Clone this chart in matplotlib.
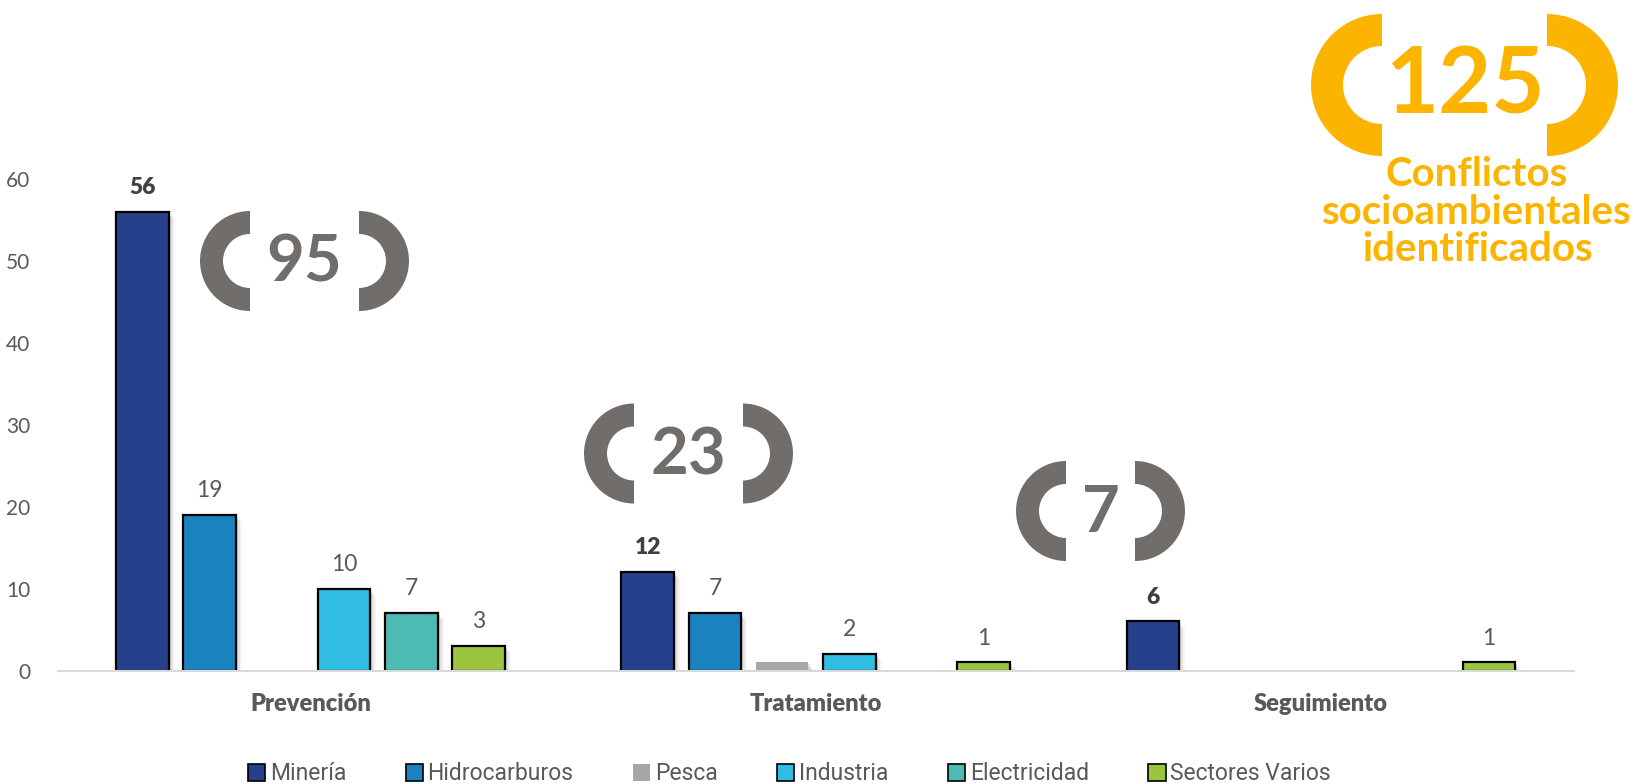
import numpy as np
import matplotlib
matplotlib.use('Agg')
import matplotlib.pyplot as plt
from matplotlib.patches import Wedge, Patch

plt.rcParams['font.family'] = ['Lato', 'DejaVu Sans']

categories = ['Prevención', 'Tratamiento', 'Seguimiento']
series_names = ['Minería', 'Hidrocarburos', 'Pesca', 'Industria', 'Electricidad', 'Sectores Varios']
mineria = [56, 12, 6]
hidrocarburos = [19, 7, 0]
pesca = [0, 1, 0]
industria = [10, 2, 0]
electricidad = [7, 0, 0]
sectores_varios = [3, 1, 1]
group_totals = [95, 23, 7]
total_conflicts = 125
yticks = [0, 10, 20, 30, 40, 50, 60]

series = [mineria, hidrocarburos, pesca, industria, electricidad, sectores_varios]
colors = ['#27408B', '#1B82C0', '#A6A6A6', '#31BDE1', '#4DBBB3', '#9BC53F']
edges = ['black', 'black', 'none', 'black', 'black', 'black']
show_label = [True, True, False, True, True, True]

fig = plt.figure(figsize=(16.48, 7.84), dpi=100)
ax = fig.add_axes([0.0351, 0.1446, 0.9197, 0.6274])

x = np.arange(len(categories))
pitch = 0.133
width = 0.104

for i, vals in enumerate(series):
    xs = x + (i - 2.5) * pitch
    vals = np.array(vals)
    mask = vals > 0
    # soft shadow to the right
    for k, a in enumerate([0.10, 0.07, 0.04]):
        off = 0.004 + k * 0.004
        ax.bar(xs[mask] + off, vals[mask] - 0.25 * (k + 1), width, bottom=0.0,
               color='black', alpha=a, linewidth=0, zorder=1)
    ax.bar(xs[mask], vals[mask], width, color=colors[i], edgecolor=edges[i],
           linewidth=1.6, zorder=3)
    if show_label[i]:
        for xv, v in zip(xs[mask], vals[mask]):
            ax.annotate(str(v), (xv, v), xytext=(0, 10), textcoords='offset points',
                        ha='center', va='bottom', fontsize=16.5,
                        color='#404040' if i == 0 else '#595959',
                        fontweight='heavy' if i == 0 else 'normal')

ax.set_xlim(-0.5, 2.5)
ax.set_ylim(0, 60)
ax.set_yticks(yticks)
ax.set_xticks(x)
ax.set_xticklabels(categories, fontsize=17, fontweight='heavy', color='#595959')
ax.tick_params(axis='both', length=0, labelcolor='#595959')
ax.tick_params(axis='x', pad=16)
ax.tick_params(axis='y', pad=20, labelsize=15)
for s in ['top', 'right', 'left']:
    ax.spines[s].set_visible(False)
ax.spines['bottom'].set_color('#D9D9D9')
ax.spines['bottom'].set_linewidth(1.5)
ax.spines['bottom'].set_zorder(4)

handles = [Patch(facecolor=c, edgecolor=e, linewidth=1.2) for c, e in zip(colors, edges)]
fig.legend(handles, series_names, loc='center', bbox_to_anchor=(0.479, 0.013), ncol=6,
           frameon=False, handlelength=0.75, handleheight=0.75, handletextpad=0.2,
           columnspacing=2.6, prop={'family': 'Roboto', 'size': 16.5},
           labelcolor='#595959')

# overlay in pixel coordinates for the bracket badges
ov = fig.add_axes([0, 0, 1, 1], zorder=5)
ov.set_xlim(0, 1648)
ov.set_ylim(784, 0)
ov.axis('off')
ov.patch.set_alpha(0)


def badge(text, cx, cy, gap, r, w, color, size):
    ov.add_patch(Wedge((cx - gap / 2, cy), r, 90, 270, width=w, color=color, linewidth=0))
    ov.add_patch(Wedge((cx + gap / 2, cy), r, -90, 90, width=w, color=color, linewidth=0))
    ov.text(cx, cy + 2, text, ha='center', va='center', fontsize=size,
            fontweight='bold', color=color)


gray = '#716D6B'
yellow = '#FBB500'
badge(str(group_totals[0]), 304.5, 261, 109, 50, 23, gray, 47)
badge(str(group_totals[1]), 688.5, 453.5, 109, 50, 23, gray, 47)
badge(str(group_totals[2]), 1100.5, 511, 69, 50, 23, gray, 47)
badge(str(total_conflicts), 1464.5, 85, 165, 71, 32, yellow, 66)
ov.text(1477, 212, 'Conflictos\nsocioambientales\nidentificados', ha='center', va='center',
        fontsize=29, fontweight='bold', color=yellow, linespacing=1.03)

fig.savefig('out.png', dpi=100)
